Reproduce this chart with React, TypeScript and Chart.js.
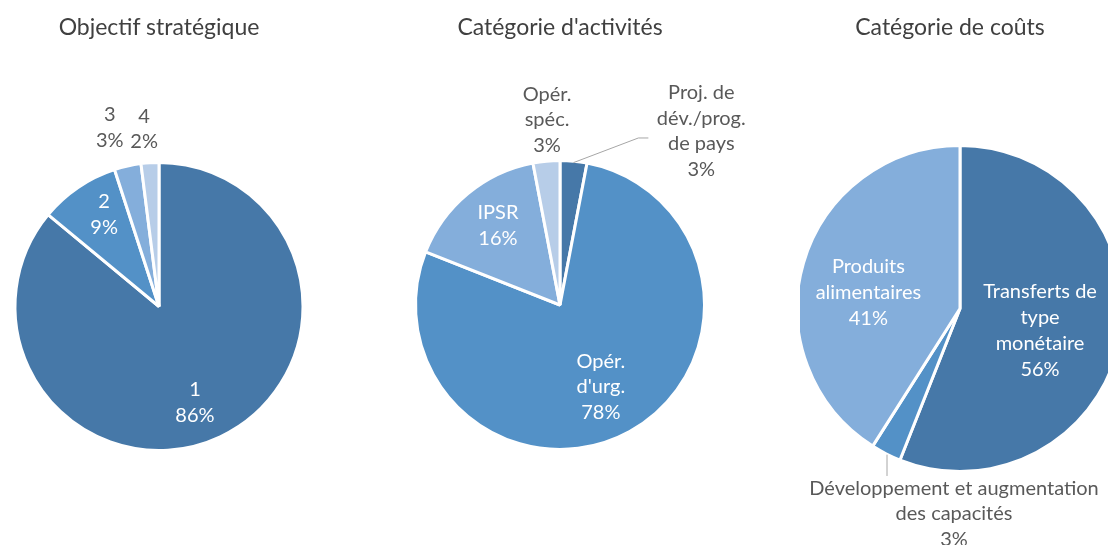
import React, { useEffect, useRef } from "react";
import { Chart, registerables } from "chart.js";

Chart.register(...registerables);

// ---------- data ----------
const objectifLabels: string[][] = [["1"], ["2"], ["3"], ["4"]];
const objectifValues: number[] = [86, 9, 3, 2];

const activiteLabels: string[][] = [
  ["Proj. de", "dév./prog.", "de pays"],
  ["Opér.", "d'urg."],
  ["IPSR"],
  ["Opér.", "spéc."],
];
const activiteValues: number[] = [3, 78, 16, 3];

const coutLabels: string[][] = [
  ["Transferts de", "type", "monétaire"],
  ["Développement et augmentation", "des capacités"],
  ["Produits", "alimentaires"],
];
const coutValues: number[] = [56, 3, 41];

const chartTitles: string[] = ["Objectif stratégique", "Catégorie d'activités", "Catégorie de coûts"];

// ---------- styles ----------
const FONT = "Lato, 'Open Sans', sans-serif";
const TEXT_GREY = "#595959";
const PALETTE4 = ["#4678A8", "#5391C7", "#84AEDB", "#B7CDE8"];
const PALETTE3 = ["#4678A8", "#5391C7", "#84AEDB"];

type Pt = { dx: number; dy: number } | "edge";
type Place = {
  inside: boolean;
  r?: number;
  a?: number;
  dx?: number;
  dy?: number;
  leader?: Pt[];
};

const placesObjectif: Place[] = [
  { inside: true, r: 0.72, a: 4.7 },
  { inside: true, r: 0.752, a: 3.4 },
  { inside: false, r: 1.3, a: -2.8 },
  { inside: false, r: 1.25, a: -1.2 },
];
const placesActivite: Place[] = [
  {
    inside: false,
    dx: 0.988,
    dy: -1.217,
    leader: ["edge", { dx: 0.548, dy: -1.168 }, { dx: 0.618, dy: -1.168 }],
  },
  { inside: true, r: 0.64, a: 2.3 },
  { inside: true, r: 0.705, a: 1.6 },
  { inside: false, r: 1.297, a: 1.4 },
];
const placesCout: Place[] = [
  { inside: true, r: 0.514, a: 4.6 },
  {
    inside: false,
    dx: -0.037,
    dy: 1.272,
    leader: [{ dx: -0.452, dy: 0.905 }, { dx: -0.452, dy: 1.037 }],
  },
  { inside: true, r: 0.576, a: -6.2 },
];

const BORDER = 3;

const pieLabelPlugin = {
  id: "pieLabels",
  afterDatasetsDraw(chart: any, _args: any, opts: any) {
    const ctx = chart.ctx as CanvasRenderingContext2D;
    const meta = chart.getDatasetMeta(0);
    const data = chart.data.datasets[0].data as number[];
    const total = data.reduce((s, v) => s + v, 0);
    const places: Place[] = opts.places || [];
    ctx.save();
    ctx.font = `${opts.size}px ${FONT}`;
    ctx.textAlign = "center";
    ctx.textBaseline = "middle";
    meta.data.forEach((el: any, i: number) => {
      const p = places[i];
      if (!p) return;
      const { x, y, startAngle, endAngle, outerRadius } = el.getProps(
        ["x", "y", "startAngle", "endAngle", "outerRadius"],
        true
      );
      const R = outerRadius - BORDER / 2;
      const mid = (startAngle + endAngle) / 2;
      let lx: number;
      let ly: number;
      if (p.dx !== undefined && p.dy !== undefined) {
        lx = x + p.dx * R;
        ly = y + p.dy * R;
      } else {
        const a = mid + ((p.a || 0) * Math.PI) / 180;
        lx = x + Math.cos(a) * (p.r || 0) * R;
        ly = y + Math.sin(a) * (p.r || 0) * R;
      }
      if (p.leader) {
        ctx.strokeStyle = "#A6A6A6";
        ctx.lineWidth = 1;
        ctx.beginPath();
        p.leader.forEach((pt, k) => {
          const px = pt === "edge" ? x + Math.cos(mid) * R : x + pt.dx * R;
          const py = pt === "edge" ? y + Math.sin(mid) * R : y + pt.dy * R;
          if (k === 0) ctx.moveTo(px, py);
          else ctx.lineTo(px, py);
        });
        ctx.stroke();
      }
      const name = chart.data.labels[i] as string[];
      const lines = [...name, Math.round((data[i] / total) * 100) + "%"];
      ctx.fillStyle = p.inside ? "#FFFFFF" : TEXT_GREY;
      lines.forEach((t, k) => {
        ctx.fillText(t, lx, ly + (k - (lines.length - 1) / 2) * opts.lineHeight);
      });
    });
    ctx.restore();
  },
};

type PieProps = {
  labels: string[][];
  values: number[];
  colors: string[];
  places: Place[];
  radius: number;
  left: number;
  width: number;
  padTop: number;
};

function Pie({ labels, values, colors, places, radius, left, width, padTop }: PieProps) {
  const ref = useRef<HTMLCanvasElement | null>(null);
  useEffect(() => {
    if (!ref.current) return;
    const chart = new Chart(ref.current, {
      type: "pie",
      data: {
        labels,
        datasets: [
          {
            data: values,
            backgroundColor: colors,
            borderColor: "#FFFFFF",
            borderWidth: BORDER,
            radius: radius + BORDER / 2,
          } as any,
        ],
      },
      options: {
        responsive: false,
        animation: false,
        devicePixelRatio: 1,
        layout: { padding: { top: padTop, bottom: 0, left: 0, right: 0 } },
        plugins: {
          legend: { display: false },
          tooltip: { enabled: false },
          title: { display: false },
          pieLabels: { places, size: 20, lineHeight: 25.8 },
        } as any,
      },
      plugins: [pieLabelPlugin],
    });
    return () => chart.destroy();
  }, []);
  return (
    <canvas
      ref={ref}
      width={width}
      height={545}
      style={{ position: "absolute", left, top: 0, width, height: 545 }}
    />
  );
}

export default function App() {
  const titleCenters = [159, 560, 950];
  return (
    <div
      style={{
        position: "absolute",
        left: 0,
        top: 0,
        width: 1108,
        height: 545,
        overflow: "hidden",
        background: "#FFFFFF",
      }}
    >
      <Pie
        labels={objectifLabels}
        values={objectifValues}
        colors={PALETTE4}
        places={placesObjectif}
        radius={142.5}
        left={0}
        width={318}
        padTop={68}
      />
      <Pie
        labels={activiteLabels}
        values={activiteValues}
        colors={PALETTE4}
        places={placesActivite}
        radius={143}
        left={370}
        width={380}
        padTop={65}
      />
      <Pie
        labels={coutLabels}
        values={coutValues}
        colors={PALETTE3}
        places={placesCout}
        radius={161.5}
        left={800}
        width={320}
        padTop={72}
      />
      {chartTitles.map((t, i) => (
        <div
          key={t}
          style={{
            position: "absolute",
            left: titleCenters[i] - 150,
            width: 300,
            top: 11,
            lineHeight: "30px",
            textAlign: "center",
            fontFamily: FONT,
            fontSize: 23,
            color: "#404040",
            whiteSpace: "nowrap",
          }}
        >
          {t}
        </div>
      ))}
    </div>
  );
}
